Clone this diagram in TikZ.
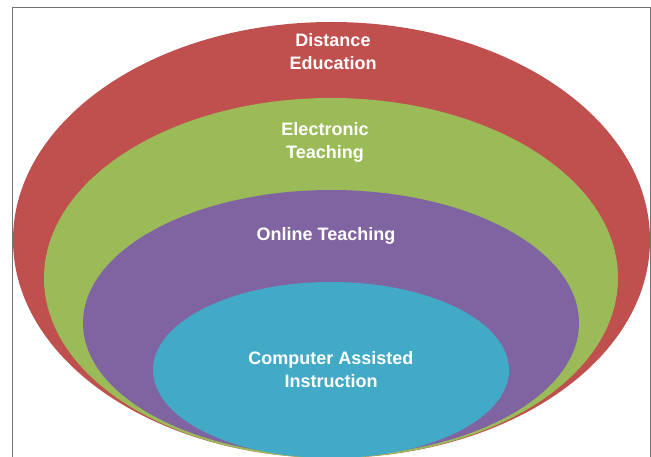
\documentclass[tikz,border=0pt]{standalone}
\usepackage{fontspec}
\setmainfont{Liberation Sans}
\usepackage{tikz}
\usetikzlibrary{shapes.geometric}

\definecolor{distred}{HTML}{C0504D}
\definecolor{elecgreen}{HTML}{9BBB59}
\definecolor{onlinepurple}{HTML}{8064A2}
\definecolor{compblue}{HTML}{42AAC6}

\begin{document}
\begin{tikzpicture}[
  x=1pt, y=-1pt,
  layer/.style={ellipse, inner sep=0pt, draw=none},
  tag/.style={text=white, align=center, font=\bfseries\fontsize{18}{23}\selectfont}
]
  \useasboundingbox (0,0) rectangle (651,457);
  \clip (0,0) rectangle (651,457);

  % frame
  \draw[gray!90!black, line width=1pt] (12.5,460) -- (12.5,8) -- (650,8) -- (650,460);

  % nested layers
  \node[layer, fill=distred, minimum width=637pt, minimum height=436pt] (distance) at (331.5,240) {};
  \node[layer, fill=elecgreen, minimum width=574pt, minimum height=360pt] (electronic) at (331,278) {};
  \node[layer, fill=onlinepurple, minimum width=496pt, minimum height=266pt] (online) at (331,323) {};
  \node[layer, fill=compblue, minimum width=356pt, minimum height=176pt] (computer) at (331,370) {};

  % labels
  \node[tag] (distlbl) at (333,52) {Distance\\Education};
  \node[tag] (eleclbl) at (325,142.5) {Electronic\\Teaching};
  \node[tag] (onlinelbl) at (326,236) {Online Teaching};
  \node[tag] (complbl) at (331,369.5) {Computer Assisted\\Instruction};
\end{tikzpicture}
\end{document}
